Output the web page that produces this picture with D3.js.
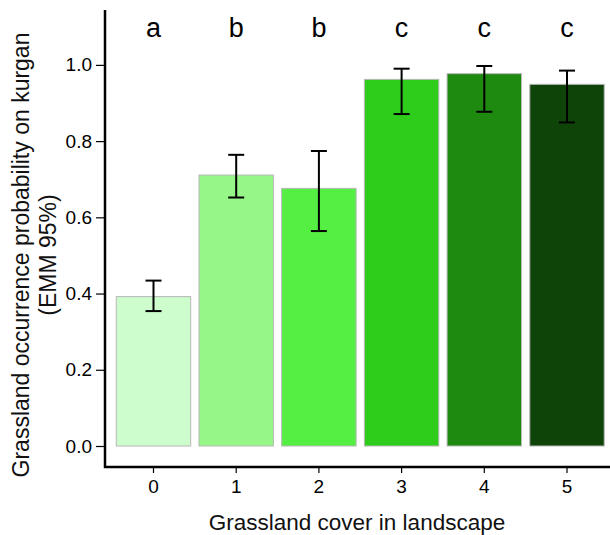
<!DOCTYPE html>
<html>
<head>
<meta charset="utf-8">
<script src="https://cdn.jsdelivr.net/npm/d3@7"></script>
<style>
  body { margin: 0; background: #fff; }
  svg { display: block; font-family: "Liberation Sans", Arial, sans-serif; }
</style>
</head>
<body>
<svg width="610" height="535"></svg>
<script>
// data
const categories = ["0", "1", "2", "3", "4", "5"];
const emm = [0.392, 0.711, 0.676, 0.962, 0.977, 0.949];
const lower = [0.354, 0.652, 0.564, 0.871, 0.877, 0.849];
const upper = [0.434, 0.764, 0.774, 0.990, 0.997, 0.985];
const groups = ["a", "b", "b", "c", "c", "c"];
const colors = ["#cdfccd", "#96f688", "#55ee42", "#2ecc1b", "#1e8a10", "#0f4409"];
const yTicks = [0, 0.2, 0.4, 0.6, 0.8, 1.0];

const svg = d3.select("svg");

const x = d3.scaleBand()
    .domain(categories)
    .range([112.15, 608.35])
    .paddingInner(0.1)
    .paddingOuter(0.05);

const y = d3.scaleLinear()
    .domain([0, 1.144])
    .range([446, 10]);

const data = categories.map((c, i) => ({ c: c, v: emm[i], lo: lower[i], hi: upper[i], g: groups[i], col: colors[i] }));

// bars
svg.selectAll("rect.bar")
    .data(data)
    .enter()
    .append("rect")
    .attr("class", "bar")
    .attr("x", d => x(d.c))
    .attr("y", d => y(d.v))
    .attr("width", x.bandwidth())
    .attr("height", d => y(0) - y(d.v))
    .attr("fill", d => d.col)
    .attr("stroke", "#b8b8b8")
    .attr("stroke-width", 1);

// error bars
const cap = 8;
const eb = svg.selectAll("g.err")
    .data(data)
    .enter()
    .append("g")
    .attr("class", "err")
    .attr("stroke", "#000")
    .attr("stroke-width", 2);
eb.append("line")
    .attr("x1", d => x(d.c) + x.bandwidth() / 2)
    .attr("x2", d => x(d.c) + x.bandwidth() / 2)
    .attr("y1", d => y(d.lo))
    .attr("y2", d => y(d.hi));
eb.append("line")
    .attr("x1", d => x(d.c) + x.bandwidth() / 2 - cap)
    .attr("x2", d => x(d.c) + x.bandwidth() / 2 + cap)
    .attr("y1", d => y(d.hi))
    .attr("y2", d => y(d.hi));
eb.append("line")
    .attr("x1", d => x(d.c) + x.bandwidth() / 2 - cap)
    .attr("x2", d => x(d.c) + x.bandwidth() / 2 + cap)
    .attr("y1", d => y(d.lo))
    .attr("y2", d => y(d.lo));

// group letters
svg.selectAll("text.grp")
    .data(data)
    .enter()
    .append("text")
    .attr("class", "grp")
    .attr("x", d => x(d.c) + x.bandwidth() / 2)
    .attr("y", 37)
    .attr("text-anchor", "middle")
    .attr("font-size", 27)
    .attr("fill", "#000")
    .text(d => d.g);

// y axis
const yAxis = svg.append("g")
    .attr("transform", "translate(105,0)")
    .call(d3.axisLeft(y).tickValues(yTicks).tickFormat(d3.format(".1f")).tickSize(9).tickPadding(4));
yAxis.select(".domain").remove();
yAxis.selectAll(".tick line").attr("stroke", "#000").attr("stroke-width", 1.2);
yAxis.selectAll(".tick text").attr("font-size", 19).attr("fill", "#000").attr("font-family", null);
yAxis.attr("font-family", null);

// x axis
const xAxis = svg.append("g")
    .attr("transform", "translate(0,467)")
    .call(d3.axisBottom(x).tickSize(6).tickPadding(7));
xAxis.select(".domain").remove();
xAxis.selectAll(".tick line").attr("stroke", "#000").attr("stroke-width", 1.2);
xAxis.selectAll(".tick text").attr("font-size", 19).attr("fill", "#000");
xAxis.attr("font-family", null);

// axis lines
svg.append("path")
    .attr("d", "M105,10V467H610")
    .attr("fill", "none")
    .attr("stroke", "#000")
    .attr("stroke-width", 2.5);

// axis titles
svg.append("text")
    .attr("x", 357)
    .attr("y", 530)
    .attr("text-anchor", "middle")
    .attr("font-size", 22.5)
    .attr("fill", "#111")
    .text("Grassland cover in landscape");

const yt = svg.append("text")
    .attr("transform", "translate(0,255) rotate(-90)")
    .attr("text-anchor", "middle")
    .attr("font-size", 23)
    .attr("fill", "#111");
yt.append("tspan").attr("x", 0).attr("y", 28.5).text("Grassland occurrence probability on kurgan");
yt.append("tspan").attr("x", 0).attr("y", 55.5).text("(EMM 95%)");
</script>
</body>
</html>
